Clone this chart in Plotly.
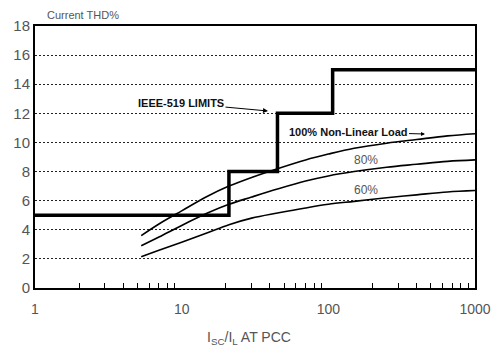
import plotly.graph_objects as go

# ---- data ----
isc_ratio = [5.3, 7, 10, 15, 21, 30, 45, 70, 100, 150, 250, 400, 650, 1000]
load_100 = [3.6, 4.4, 5.3, 6.3, 7.0, 7.6, 8.2, 8.8, 9.2, 9.6, 9.95, 10.2, 10.45, 10.6]
load_80 = [2.9, 3.5, 4.3, 5.15, 5.75, 6.25, 6.8, 7.35, 7.7, 8.0, 8.3, 8.5, 8.7, 8.8]
load_60 = [2.15, 2.6, 3.15, 3.8, 4.35, 4.8, 5.15, 5.5, 5.75, 5.95, 6.2, 6.4, 6.6, 6.7]

ieee_x = [1, 21, 21, 45, 45, 107, 107, 1000]
ieee_y = [5, 5, 8, 8, 12, 12, 15, 15]

y_ticks = [0, 2, 4, 6, 8, 10, 12, 14, 16, 18]
x_ticks = [1, 10, 100, 1000]
x_tick_labels = ["1", "10", "100", "1000"]
minor_ticks = [m * d for d in (1, 10, 100) for m in range(2, 10)]

FONT = "Liberation Sans, Arial, sans-serif"
GRAY = "#555555"

fig = go.Figure()
fig.add_trace(go.Scatter(x=ieee_x, y=ieee_y, mode="lines",
                         line=dict(color="black", width=3.5), hoverinfo="skip"))
for ys in (load_100, load_80, load_60):
    fig.add_trace(go.Scatter(x=isc_ratio, y=ys, mode="lines", line_shape="spline",
                             line=dict(color="black", width=1.6), hoverinfo="skip"))
# invisible trace on overlay axis carrying minor ticks
fig.add_trace(go.Scatter(x=[1, 1000], y=[0, 0], xaxis="x2", mode="lines",
                         line=dict(width=0), hoverinfo="skip", showlegend=False))

PL, PT, PR, PB = 35, 26, 475, 288


def px2paper(px, py):
    return (px - PL) / (PR - PL), (PB - py) / (PB - PT)


annos = []
x0, y0 = px2paper(268, 111)
annos.append(dict(x=x0, y=y0, xref="paper", yref="paper", text="<b>IEEE-519 LIMITS</b>",
                  showarrow=True, ax=-87, ay=-8, arrowhead=2, arrowsize=1, arrowwidth=1,
                  arrowcolor="black", font=dict(family=FONT, size=11, color="#111")))
x0, y0 = px2paper(425, 134)
annos.append(dict(x=x0, y=y0, xref="paper", yref="paper", text="<b>100% Non-Linear Load</b>",
                  showarrow=True, ax=-77, ay=-2, arrowhead=2, arrowsize=0.8, arrowwidth=1,
                  arrowcolor="black", font=dict(family=FONT, size=11, color="#111")))
for txt, (px, py) in (("80%", (366, 160)), ("60%", (366, 190))):
    x0, y0 = px2paper(px, py)
    annos.append(dict(x=x0, y=y0, xref="paper", yref="paper", text=txt, showarrow=False,
                      xanchor="center", yanchor="middle",
                      font=dict(family=FONT, size=12, color=GRAY)))
x0, y0 = px2paper(83, 15)
annos.append(dict(x=x0, y=y0, xref="paper", yref="paper", text="Current THD%", showarrow=False,
                  xanchor="center", yanchor="middle",
                  font=dict(family=FONT, size=11, color=GRAY)))
x0, y0 = px2paper(249, 338)
annos.append(dict(x=x0, y=y0, xref="paper", yref="paper",
                  text="I<sub>SC</sub>/I<sub>L</sub> AT PCC", showarrow=False,
                  xanchor="center", yanchor="middle",
                  font=dict(family=FONT, size=14, color=GRAY)))

fig.update_layout(
    width=492, height=354,
    margin=dict(l=PL, r=492 - PR, t=PT, b=354 - PB, autoexpand=False),
    paper_bgcolor="white", plot_bgcolor="white",
    showlegend=False,
    annotations=annos,
    xaxis=dict(type="log", range=[0, 3], tickvals=x_ticks, ticktext=x_tick_labels,
               showgrid=False, zeroline=False, showline=True, mirror=True,
               linecolor="black", linewidth=2, ticks="", automargin=False,
               ticklabelstandoff=7,
               tickfont=dict(family=FONT, size=14, color=GRAY)),
    xaxis2=dict(type="log", range=[0, 3], overlaying="x", anchor="y", side="bottom",
                tickvals=minor_ticks, showticklabels=False, ticks="inside", ticklen=5,
                tickcolor="black", tickwidth=1, showgrid=False, zeroline=False,
                showline=False, automargin=False),
    yaxis=dict(range=[0, 18], tickvals=y_ticks, showgrid=True, gridcolor="#222222",
               griddash="2px,2px", gridwidth=1, zeroline=False, showline=True, mirror=True,
               linecolor="black", linewidth=2, ticks="", automargin=False,
               tickfont=dict(family=FONT, size=15, color=GRAY)),
)

fig.write_html("out.html", config={"displayModeBar": False, "staticPlot": True},
               post_script="document.body.style.margin='0';")
